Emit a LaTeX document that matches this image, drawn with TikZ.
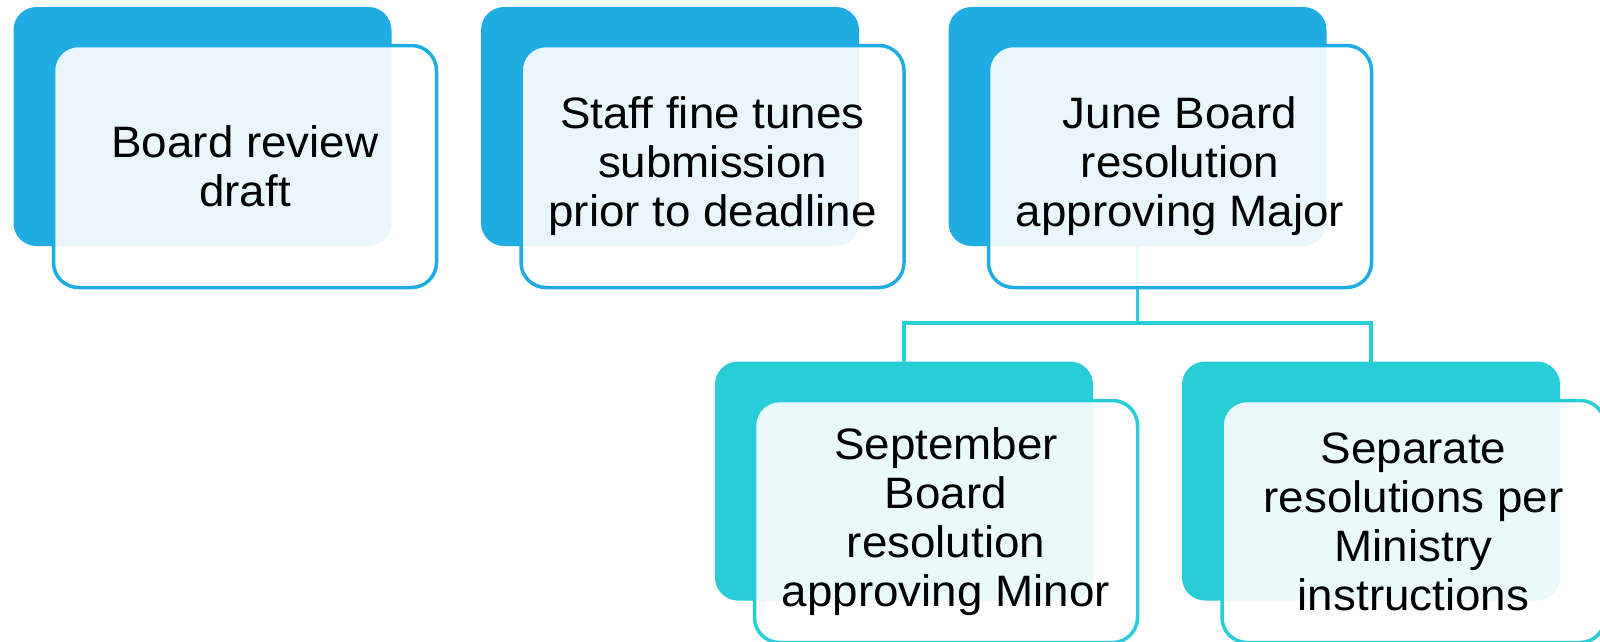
\documentclass[tikz,border=0pt]{standalone}
\usepackage{fontspec}
\setmainfont{Liberation Sans}[FakeStretch=1.04]
\definecolor{topblue}{RGB}{31,172,226}
\definecolor{teal}{RGB}{41,205,215}
\tikzset{
  backbox/.style={rectangle, rounded corners=23pt, inner sep=0pt, outer sep=0pt,
    minimum width=378pt, minimum height=239pt, draw=none},
  frontbox/.style={rectangle, rounded corners=25pt, inner sep=0pt, outer sep=0pt,
    minimum width=383pt, minimum height=242pt, line width=3.5pt,
    fill=white, fill opacity=0.9, text opacity=1, align=center,
    font=\fontsize{44}{49}\selectfont},
  conn/.style={draw=teal, line width=3.5pt}
}
\begin{document}
\begin{tikzpicture}[x=1pt,y=-1pt]
\useasboundingbox (0,0) rectangle (1600,641);
\clip (0,0) rectangle (1600,641);
% back boxes
\node[backbox, fill=topblue] (b1) at (202.5,126.5) {};
\node[backbox, fill=topblue] (b2) at (670,126.5) {};
\node[backbox, fill=topblue] (b3) at (1137.5,126.5) {};
\node[backbox, fill=teal] (b4) at (904,481) {};
\node[backbox, fill=teal] (b5) at (1371,481) {};
% connectors
\coordinate (mid) at (1137.5,323);
\draw[conn] (b3.south) -- (mid) -| (b4.north);
\draw[conn] (mid) -| (b5.north);
% front boxes
\node[frontbox, draw=topblue] (f1) at (245,166.5) {Board review\\draft};
\node[frontbox, draw=topblue] (f2) at (712.5,166.5) {Staff fine tunes\\submission\\prior to deadline};
\node[frontbox, draw=topblue] (f3) at (1180,166.5) {June Board\\resolution\\approving Major};
\node[frontbox, draw=teal] (f4) at (946,521.5) {September\\Board\\resolution\\approving Minor};
\node[frontbox, draw=teal] (f5) at (1413.5,521.5) {Separate\\resolutions per\\Ministry\\instructions};
\end{tikzpicture}
\end{document}
